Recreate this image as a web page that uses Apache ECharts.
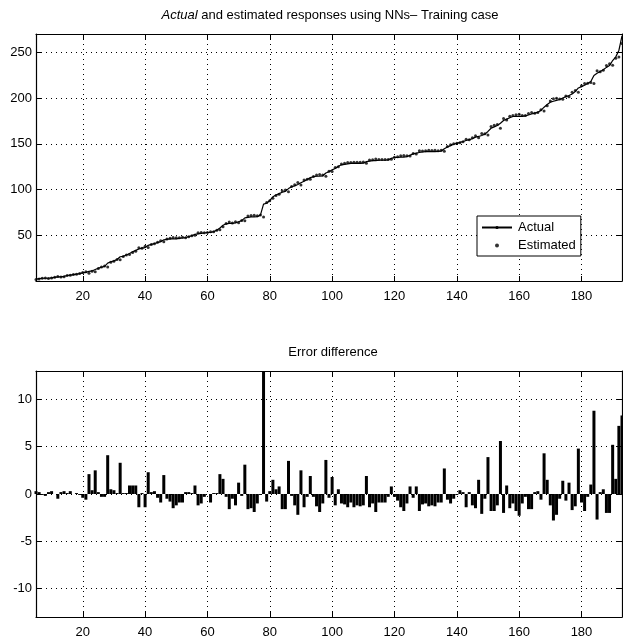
<!DOCTYPE html>
<html>
<head>
<meta charset="utf-8">
<title>Actual and estimated responses using NNs</title>
<script src="https://cdn.jsdelivr.net/npm/echarts@6/dist/echarts.min.js"></script>
<style>
    html, body { margin: 0; padding: 0; background: #fff; }
    #main { width: 623px; height: 640px; }
</style>
</head>
<body>
<div id="main"></div>
<script>
// training steps 5..193
const firstStep = 5;

const actual = [
    2, 2.5, 3, 3, 3, 3.5, 4, 4.5, 4.5, 5, 6, 6.5, 7, 7.5, 8,
    8.8, 9.5, 10.5, 11, 12.5, 14, 15, 16, 19.5, 21,
    22, 23.5, 26.5, 27, 28.5, 30, 32, 33.5, 35, 36,
    36.5, 39, 40, 41, 42, 43, 45, 45.5, 46, 46,
    46, 46.5, 47, 47.5, 48.5, 49.5, 51, 51.5, 52, 52.5,
    53, 53, 54, 55.5, 58, 61, 62.5, 63, 63, 63.5,
    64.8, 66, 69, 69.5, 70, 70, 70.4, 72, 84, 85,
    88, 92, 94, 95.5, 97, 98, 101, 103, 104, 105.5,
    107.4, 109, 111, 113, 114, 114.5, 114.5, 115, 118, 119.5,
    121.5, 123, 125.5, 127, 127.5, 128, 128.5, 128.5, 128.5, 128.5,
    128.8, 130.5, 131, 131.5, 131.5, 132, 132, 132, 132.5, 134,
    135, 135, 135.5, 135.5, 136, 137.5, 139, 139.7, 140.5, 141,
    141.5, 141.5, 141.5, 141.5, 141.6, 142, 144.5, 146.5, 148, 149.5,
    150.5, 151.5, 152.5, 153.6, 154.5, 155.5, 157.3, 158, 159, 160.5,
    163.5, 167, 168.5, 170, 172.5, 175.5, 177, 178.5, 179.8, 180,
    180, 180, 180.5, 181.5, 182.5, 183.5, 184.5, 186.5, 190, 193,
    195.5, 196.5, 197.5, 198.4, 200, 201.5, 202.7, 204.5, 207, 211,
    212.5, 214, 216, 218, 224.6, 227, 229, 231, 233.5, 235.5,
    241, 245, 252, 268
];

// actual minus estimated
const errorDiff = [
    0.3, 0.2, -0.1, -0.2, 0.2, 0.3, 0, -0.5, 0.2, 0.3, 0.1, 0.3, 0, 0.1, -0.1,
    -0.4, -0.6, 2.1, 0.4, 2.5, 0.2, -0.3, -0.3, 4.1, 0.5,
    0.4, 0.1, 3.3, 0.1, 0.1, 0.9, 0.9, 0.9, -1.4, 0.1,
    -1.4, 2.3, 0.2, 0.3, -0.4, -0.9, 2.0, -0.5, -0.8, -1.5,
    -1.2, -0.9, -0.9, 0.2, 0.2, 0.1, 0.9, -1.2, -1.0, -0.3,
    0, -0.9, 0.1, 0.1, 2.1, 1.6, -0.3, -1.6, -0.5, -1.2,
    1.2, -0.2, 3.1, -1.6, -1.5, -1.9, -1.0, -0.1, 14, -0.8,
    0.3, 1.5, 0.5, 0.8, -1.6, -1.6, 3.5, -0.2, -1.2, -2.2,
    2.5, -1.4, -0.3, 1.9, -0.3, -1.3, -1.9, -1.0, 3.6, -0.4,
    1.8, -1.2, 0.5, -1.0, -1.1, -1.4, -0.9, -1.4, -1.2, -1.3,
    -1.2, 1.9, -1.4, -1.0, -1.9, -0.9, -0.9, -0.9, -0.3, 0.8,
    -0.3, -0.7, -1.4, -1.8, -1.0, 0.8, -0.4, 0.8, -1.8, -1.1,
    -1.0, -1.3, -1.2, -1.3, -0.9, -0.9, 2.7, -0.6, -1.0, -0.5,
    -0.1, 0.4, 0.2, -1.4, 0.2, -1.2, -1.5, 1.5, -2.1, -0.5,
    3.9, -1.8, -1.8, -1.2, 5.6, -2.0, 0.9, -1.5, -1.0, -1.8,
    -2.3, -1.0, -0.3, -1.6, -1.6, 0.2, 0.3, -0.6, 4.3, 1.5,
    -1.2, -2.8, -2.2, -0.5, 1.4, -0.7, 1.2, -1.7, -1.3, 4.8,
    -0.9, -1.8, -0.3, 1.0, 8.8, -2.7, 0.2, 0.5, -2.0, -2.0,
    5.2, 1.6, 7.2, 8.3
];

const topTitle = '{i|Actual} and estimated responses using NNs\u2013 Training case';
const bottomTitle = 'Error difference';

const actualData = actual.map((v, k) => [firstStep + k, v]);
// estimated points read back from the error bars
const estimatedData = actual.map((v, k) => [firstStep + k, +(v - errorDiff[k]).toFixed(1)]);
const errorData = errorDiff.map((v, k) => [firstStep + k, v]);

const font = 'Liberation Sans';
const black = '#000';

const xAxisBase = (gridIndex, position, labels) => ({
    type: 'value',
    gridIndex: gridIndex,
    position: position,
    min: 5,
    max: 193,
    splitNumber: 9,
    axisLine: { show: true, onZero: false, lineStyle: { color: black, width: 1.2 } },
    axisTick: { show: true, inside: true, length: 5, lineStyle: { color: black } },
    axisLabel: {
        show: labels,
        showMinLabel: false,
        showMaxLabel: false,
        color: black,
        fontFamily: font,
        fontSize: 13,
        margin: 9
    },
    splitLine: {
        show: labels,
        lineStyle: { color: black, width: 1, type: [1, 4] }
    }
});

const yAxisBase = (gridIndex, position, labels, min, max) => ({
    type: 'value',
    gridIndex: gridIndex,
    position: position,
    min: min,
    max: max,
    splitNumber: 5,
    axisLine: { show: true, onZero: false, lineStyle: { color: black, width: 1.2 } },
    axisTick: { show: true, inside: true, length: 5, lineStyle: { color: black } },
    axisLabel: {
        show: labels,
        showMinLabel: false,
        showMaxLabel: false,
        color: black,
        fontFamily: font,
        fontSize: 13,
        margin: 4
    },
    splitLine: {
        show: labels,
        lineStyle: { color: black, width: 1, type: [1, 4] }
    }
});

const myChart = echarts.init(document.getElementById('main'), null, { renderer: 'canvas' });

const option = {
    backgroundColor: '#fff',
    animation: false,
    title: [
        {
            text: topTitle,
            left: 330,
            top: 9,
            textAlign: 'center',
            padding: 0,
            textStyle: {
                color: black,
                fontFamily: font,
                fontSize: 13,
                fontWeight: 'normal',
                rich: { i: { fontStyle: 'italic', color: black, fontFamily: font, fontSize: 13 } }
            }
        },
        {
            text: bottomTitle,
            left: 333,
            top: 346,
            textAlign: 'center',
            padding: 0,
            textStyle: { color: black, fontFamily: font, fontSize: 13, fontWeight: 'normal' }
        }
    ],
    legend: {
        data: [
            { name: 'Actual' },
            { name: 'Estimated', icon: 'circle' }
        ],
        orient: 'vertical',
        left: 477,
        top: 216,
        padding: [5, 5, 4, 4],
        itemWidth: 30,
        itemHeight: 4,
        itemGap: 5,
        backgroundColor: '#fff',
        borderColor: black,
        borderWidth: 1,
        borderRadius: 0,
        textStyle: { color: black, fontFamily: font, fontSize: 13, padding: [0, 0, 0, 1] }
    },
    grid: [
        { left: 36, right: 1, top: 34, height: 247, outerBoundsMode: 'none' },
        { left: 36, right: 1, top: 371, height: 246, outerBoundsMode: 'none' }
    ],
    xAxis: [
        xAxisBase(0, 'bottom', true),
        xAxisBase(0, 'top', false),
        xAxisBase(1, 'bottom', true),
        xAxisBase(1, 'top', false)
    ],
    yAxis: [
        yAxisBase(0, 'left', true, 0, 270),
        yAxisBase(0, 'right', false, 0, 270),
        yAxisBase(1, 'left', true, -13, 13),
        yAxisBase(1, 'right', false, -13, 13)
    ],
    series: [
        {
            name: 'Actual',
            type: 'line',
            xAxisIndex: 0,
            yAxisIndex: 0,
            data: actualData,
            symbol: 'none',
            lineStyle: { color: black, width: 1.2 },
            itemStyle: { color: black },
            z: 3
        },
        {
            name: 'Estimated',
            type: 'scatter',
            xAxisIndex: 0,
            yAxisIndex: 0,
            data: estimatedData,
            symbolSize: 3,
            itemStyle: { color: black },
            z: 4
        },
        {
            name: 'Error',
            type: 'bar',
            xAxisIndex: 2,
            yAxisIndex: 2,
            data: errorData,
            barWidth: 3,
            itemStyle: { color: black },
            clip: true
        }
    ]
};

myChart.setOption(option);
</script>
</body>
</html>
